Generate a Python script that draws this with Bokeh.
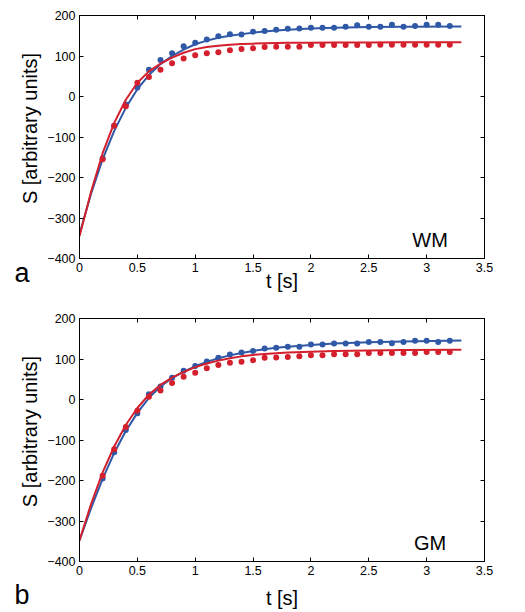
import math
from bokeh.plotting import figure
from bokeh.models import Range1d, FixedTicker, LinearAxis, Label
from bokeh.layouts import column, row
from bokeh.embed import file_html
from bokeh.resources import INLINE
from bokeh.core.properties import value

# ---------------- data ----------------
x_ticks = [0, 0.5, 1, 1.5, 2, 2.5, 3, 3.5]
y_ticks = [-400, -300, -200, -100, 0, 100, 200]

dot_t = [0.2, 0.3, 0.4, 0.5, 0.6, 0.7, 0.8, 0.9, 1.0, 1.1, 1.2, 1.3, 1.4, 1.5, 1.6,
         1.7, 1.8, 1.9, 2.0, 2.1, 2.2, 2.3, 2.4, 2.5, 2.6, 2.7, 2.8, 2.9, 3.0, 3.1, 3.2]

wm_blue_dots = [-153, -72, -20, 22, 66, 90, 107, 124, 133, 141, 149, 154, 153, 160, 162,
                165, 167, 168, 170, 170, 170, 172, 176, 172, 172, 177, 172, 174, 177, 177, 174]
wm_red_dots = [-155, -72, -24, 34, 48, 66, 82, 94, 102, 107, 109, 114, 117, 119, 122,
               123, 123, 123, 127, 127, 127, 127, 127, 127, 128, 128, 128, 128, 128, 128, 128]

gm_blue_dots = [-195, -130, -75, -34, 13, 32, 54, 71, 83, 94, 103, 111, 116, 120, 126,
                128, 130, 130, 136, 136, 138, 138, 138, 142, 142, 139, 142, 145, 145, 142, 145]
gm_red_dots = [-188, -123, -68, -28, 7, 22, 41, 56, 66, 77, 85, 91, 93, 97, 103,
               104, 105, 107, 109, 109, 112, 112, 112, 115, 115, 115, 115, 115, 117, 117, 117]

fit_t = [0, 0.1, 0.2, 0.3, 0.4, 0.5, 0.6, 0.7, 0.8, 0.9, 1.0, 1.1, 1.2, 1.3, 1.4, 1.5,
         1.6, 1.7, 1.8, 2.0, 2.2, 2.5, 2.8, 3.3]

wm_blue_fit = [-340, -240, -155, -85, -28, 18, 53, 80, 100, 116, 129, 138, 145, 150, 154,
               157.5, 160.5, 163, 165, 168, 170, 171.5, 172.5, 173]
wm_red_fit = [-345, -235, -140, -65, -8, 34, 62, 81, 96, 108, 117, 122, 125.5, 128, 129.5,
              130.5, 131.5, 132, 132.5, 133, 133.5, 133.5, 134, 134]

gm_blue_fit = [-348, -268, -196, -132, -78, -33, 4, 32, 53, 69, 82, 93, 102, 109, 115,
               120, 124, 127.5, 130, 134.5, 138, 141.5, 143.5, 145.5]
gm_red_fit = [-348, -258, -180, -116, -63, -21, 12, 36, 54, 68, 80, 89, 96, 102, 106.5,
              110, 112.5, 114.5, 116, 118, 119.5, 121, 122, 123]

y_label = "S [arbitrary units]"
x_label = "t [s]"

BLUE = "#2f58a6"
RED = "#d41f2d"
FONT = "Liberation Sans"
STRIP_W = 43


def strip(height, frame_top, frame_bottom, letter, letter_standoff, ylabel_y):
    # side strip: rotated y-axis title inside its frame, panel letter as its bottom-axis label
    s = figure(width=STRIP_W, height=height, output_backend="svg", toolbar_location=None,
               x_range=Range1d(0, STRIP_W), y_range=Range1d(frame_bottom, frame_top),
               y_axis_location=None,
               min_border_left=0, min_border_right=0, min_border_top=0, min_border_bottom=0)
    s.grid.visible = False
    s.outline_line_color = None
    s.background_fill_color = "white"
    s.border_fill_color = "white"
    ax = s.xaxis[0]
    ax.axis_line_color = None
    ax.major_tick_line_color = None
    ax.minor_tick_line_color = None
    ax.major_tick_in = 0
    ax.major_tick_out = 0
    ax.major_label_text_color = None
    ax.major_label_text_font_size = "1px"
    ax.major_label_standoff = 0
    ax.axis_label = letter
    ax.axis_label_text_font = FONT
    ax.axis_label_text_font_size = "27px"
    ax.axis_label_text_font_style = "normal"
    ax.axis_label_text_color = "black"
    ax.axis_label_standoff = letter_standoff
    s.text(x=[29], y=[ylabel_y], text=[y_label], angle=math.pi / 2,
           text_font=value(FONT), text_font_size="20px", text_color="black",
           text_align="center", text_baseline="middle")
    return s


def panel(height, top, bottom, blue_fit, red_fit, blue_dots, red_dots,
          tissue, xlabel_standoff):
    p = figure(width=525 - STRIP_W, height=height, output_backend="svg", toolbar_location=None,
               x_range=Range1d(0, 3.5), y_range=Range1d(-400, 200),
               min_border_left=79 - STRIP_W, min_border_right=41,
               min_border_top=top, min_border_bottom=bottom)
    p.background_fill_color = "white"
    p.border_fill_color = "white"
    p.outline_line_color = "black"
    p.outline_line_width = 1
    p.grid.visible = False

    p.xaxis.ticker = FixedTicker(ticks=x_ticks)
    p.yaxis.ticker = FixedTicker(ticks=y_ticks)
    for ax in (p.xaxis[0], p.yaxis[0]):
        ax.major_tick_in = 4
        ax.major_tick_out = 0
        ax.minor_tick_line_color = None
        ax.axis_line_color = "black"
        ax.major_label_text_font = FONT
        ax.major_label_text_font_size = "12.5px"
        ax.major_label_text_color = "black"
        ax.axis_label_text_font = FONT
        ax.axis_label_text_font_size = "20px"
        ax.axis_label_text_font_style = "normal"
        ax.axis_label_text_color = "black"
    p.xaxis.axis_label = x_label
    p.xaxis.major_label_standoff = 4
    p.xaxis.axis_label_standoff = xlabel_standoff
    p.yaxis.major_label_standoff = 4

    top_ax = LinearAxis(ticker=FixedTicker(ticks=x_ticks), major_tick_in=4, major_tick_out=0,
                        minor_tick_line_color=None, major_label_text_font_size="1px",
                        major_label_text_color=None,
                        major_label_standoff=0, axis_line_color="black")
    right_ax = LinearAxis(ticker=FixedTicker(ticks=y_ticks), major_tick_in=4, major_tick_out=0,
                          minor_tick_line_color=None, major_label_text_font_size="1px",
                          major_label_text_color=None,
                          major_label_standoff=0, axis_line_color="black")
    p.add_layout(top_ax, "above")
    p.add_layout(right_ax, "right")

    p.line(fit_t, blue_fit, line_color=BLUE, line_width=2)
    p.scatter(dot_t, blue_dots, size=6, fill_color=BLUE, line_color=None)
    p.line(fit_t, red_fit, line_color=RED, line_width=2)
    p.scatter(dot_t, red_dots, size=6, fill_color=RED, line_color=None)

    p.add_layout(Label(x=3.03, y=-355, text=tissue, text_font=FONT, text_font_size="20px",
                       text_align="center", text_baseline="alphabetic", text_color="black"))
    return p


pa = panel(308, 15, 50, wm_blue_fit, wm_red_fit, wm_blue_dots, wm_red_dots, "WM", -5)
pb = panel(304, 10, 49, gm_blue_fit, gm_red_fit, gm_blue_dots, gm_red_dots, "GM", 9)
sa = strip(308, 15, 258, "a", -5, 128)
sb = strip(304, 10, 255, "b", 14, 124)

layout = column(row(sa, pa, spacing=0), row(sb, pb, spacing=0), spacing=0)
open("out.html", "w").write(file_html(layout, INLINE))
